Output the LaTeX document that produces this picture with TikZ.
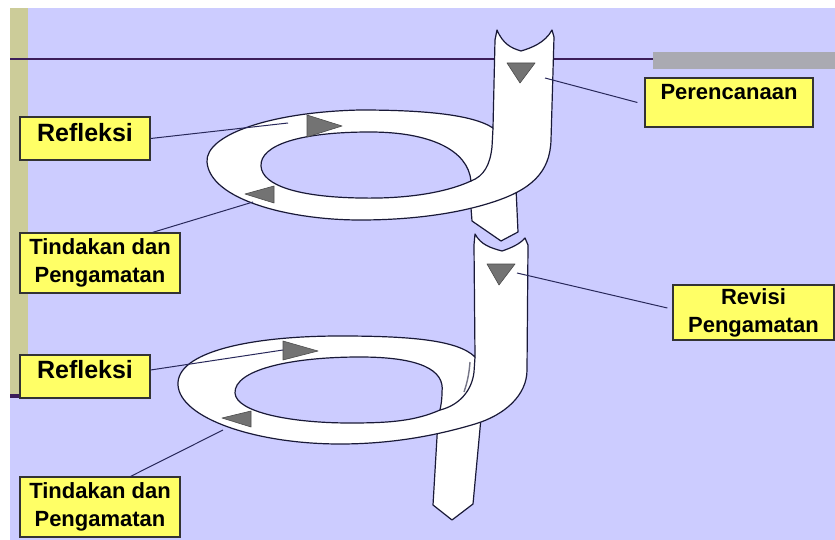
\documentclass[tikz,border=0pt]{standalone}
\usepackage{fontspec}
\setmainfont{Liberation Sans}
\definecolor{lav}{RGB}{204,204,255}
\definecolor{khaki}{RGB}{204,204,153}
\definecolor{rulec}{RGB}{60,30,90}
\definecolor{bargray}{RGB}{170,170,178}
\definecolor{lblyellow}{RGB}{255,255,102}
\definecolor{trigray}{RGB}{115,115,115}
\definecolor{bandc}{RGB}{25,25,55}
\definecolor{connc}{RGB}{40,40,90}
\tikzset{
  lbl/.style={draw=black!80, line width=1.2pt, fill=lblyellow, inner sep=0pt, align=center,
              font=\bfseries\fontsize{22}{28}\selectfont},
  conn/.style={draw=connc, line width=1pt},
  band/.style={fill=white, draw=bandc, line width=1.2pt, line join=round},
  bandline/.style={draw=bandc, line width=1.2pt},
  tri/.style={fill=trigray, draw=black!70, line width=0.6pt, line join=round},
}
\begin{document}
\begin{tikzpicture}[x=1pt,y=-1pt]
\useasboundingbox (0,0) rectangle (835,540);
% background
\fill[white] (0,0) rectangle (835,540);
\fill[lav] (10,8) rectangle (835,540);
\fill[khaki] (10,8) rectangle (28,396);
\fill[rulec] (10,394) rectangle (28,398);
\draw[rulec, line width=1.3pt] (10,59) -- (835,59);
\fill[bargray] (653,52) rectangle (835,69);

% ---------- upper spiral ----------
\path[band] (470,195) -- (472,221) -- (501,241) -- (518,232) -- (516,188) -- cycle;
\path[band, even odd rule]
  (497,30) .. controls (503,44) and (511,48) .. (521,51)
           .. controls (531,48) and (545,43) .. (552,30)
  -- (554,37) -- (551,140)
  .. controls (550,172) and (532,190) .. (490,203)
  .. controls (455,214) and (410,220) .. (360,220)
  .. controls (290,220) and (210,200) .. (207,162)
  .. controls (205,135) and (270,112) .. (360,110)
  .. controls (420,110) and (472,114) .. (493,128)
  -- (495,40) -- cycle
  (471,181) .. controls (445,193) and (405,199) .. (360,198)
  .. controls (300,197) and (262,186) .. (261,166)
  .. controls (260,145) and (300,132) .. (370,132)
  .. controls (430,132) and (468,150) .. (471,181) -- cycle;
\draw[bandline] (493,128) -- (492,147) .. controls (490,165) and (484,176) .. (471,181);
\path[tri] (307,115) -- (342,126) -- (307,137) -- cycle;
\path[tri] (245,194) -- (274,186) -- (274,203) -- cycle;
\path[tri] (507,63) -- (535,63) -- (520,83) -- cycle;

% ---------- lower spiral ----------
\path[band] (438,420) -- (433,505) -- (452,520) -- (473,504) -- (481,418) -- cycle;
\path[band, even odd rule]
  (475,234) .. controls (481,245) and (491,248) .. (502,251)
            .. controls (511,248) and (520,244) .. (525,238)
  -- (528,245) -- (527,370)
  .. controls (527,395) and (505,415) .. (475,424)
  .. controls (435,436) and (390,444) .. (340,444)
  .. controls (255,444) and (180,418) .. (178,385)
  .. controls (176,352) and (250,336) .. (340,336)
  .. controls (410,336) and (458,340) .. (475,357)
  -- (474,245) -- cycle
  (440,410) .. controls (415,421) and (390,423) .. (350,423)
  .. controls (290,423) and (236,412) .. (235,393)
  .. controls (234,370) and (290,357) .. (360,357)
  .. controls (420,357) and (445,370) .. (442,392)
  .. controls (442,400) and (441,405) .. (440,410) -- cycle;
\draw[bandline] (475,357) -- (474,372) .. controls (472,390) and (460,405) .. (440,410);
\draw[bandc!60, line width=1.4pt] (470,362) .. controls (469,375) and (467,383) .. (464,392);
\path[tri] (283,341) -- (318,351) -- (283,360) -- cycle;
\path[tri] (222,418) -- (251,411) -- (251,427) -- cycle;
\path[tri] (487,264) -- (515,264) -- (499,285) -- cycle;

% ---------- labels ----------
\node[lbl, minimum width=130pt, minimum height=43pt, font=\bfseries\fontsize{25}{28}\selectfont,
      text height=18pt, text depth=11pt] (refl1) at (85,138.5) {Refleksi};
\node[lbl, minimum width=160pt, minimum height=60pt] (tind1) at (100,263) {Tindakan dan\\Pengamatan};
\node[lbl, minimum width=168pt, minimum height=49pt, text height=16pt, text depth=21pt] (pere) at (729,102.5) {Perencanaan};
\node[lbl, minimum width=161pt, minimum height=55pt] (rev) at (753.5,312.5) {Revisi\\Pengamatan};
\node[lbl, minimum width=130pt, minimum height=43pt, font=\bfseries\fontsize{25}{28}\selectfont,
      text height=18pt, text depth=15pt] (refl2) at (85,376.5) {Refleksi};
\node[lbl, minimum width=160pt, minimum height=60pt] (tind2) at (100,507) {Tindakan dan\\Pengamatan};

% ---------- connectors ----------
\coordinate (e1) at (288,123);
\coordinate (e2) at (253,202);
\coordinate (e3) at (545,78);
\coordinate (e4) at (283,350);
\coordinate (e5) at (223,430);
\coordinate (e6) at (517,273);
\draw[conn] (refl1.east) -- (e1);
\draw[conn] ([xshift=-28pt]tind1.north east) -- (e2);
\draw[conn] ([xshift=-7pt]pere.west) -- (e3);
\draw[conn] ([yshift=6.5pt]refl2.east) -- (e4);
\draw[conn] ([xshift=-50pt]tind2.north east) -- (e5);
\draw[conn] ([xshift=-5pt,yshift=4.5pt]rev.west) -- (e6);
\end{tikzpicture}
\end{document}
